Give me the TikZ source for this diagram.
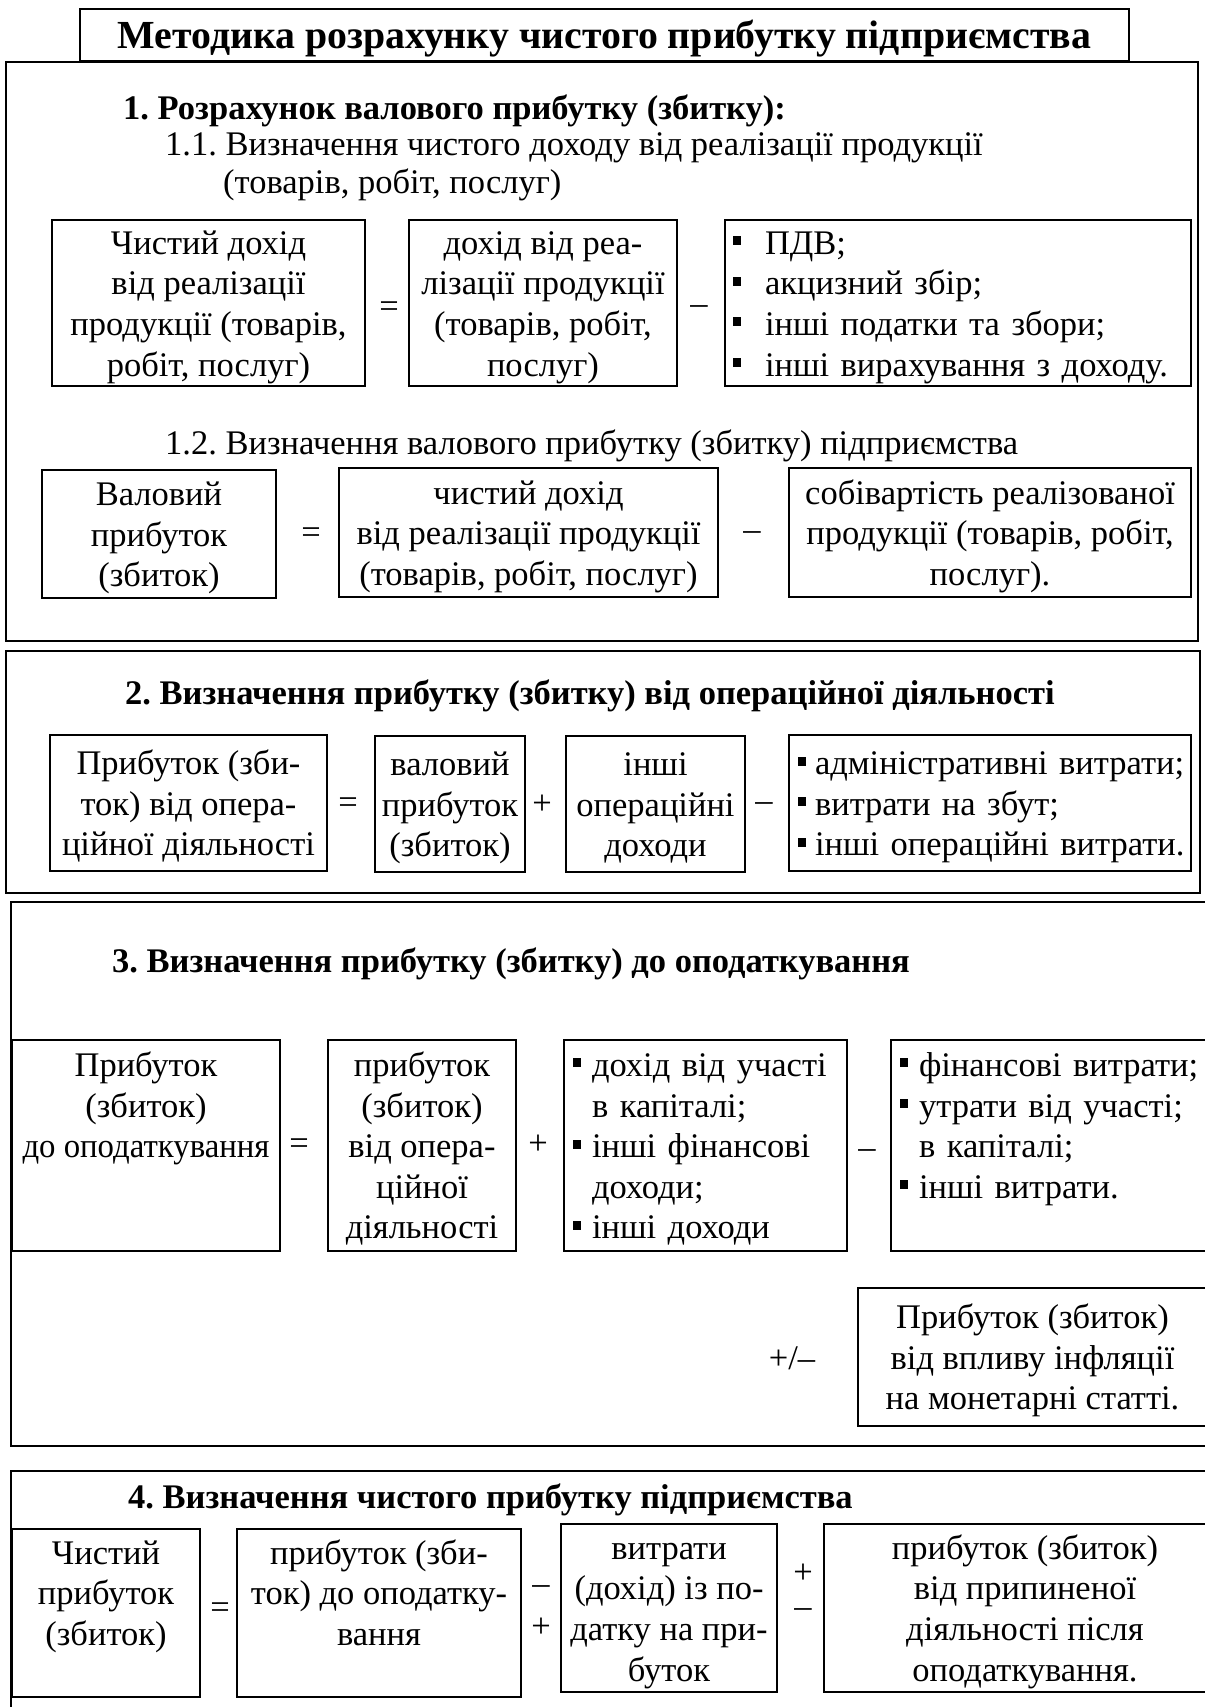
\documentclass[tikz,border=0pt]{standalone}
\usepackage{fontspec}
\setmainfont{Liberation Serif}
\frenchspacing
\newcommand\bodyfont{\fontsize{34.5}{40.6}\selectfont}
\newcommand\headfont{\fontsize{34.5}{40.6}\selectfont\bfseries}
\newcommand\titlefont{\fontsize{39.8}{44}\selectfont\bfseries}
\newcommand\Z{\rule[-8.2pt]{0pt}{40.6pt}}
\newcommand\bul{\rule[9pt]{8pt}{9pt}}
\newcommand\bitem[2]{\Z\makebox[#1][l]{\bul}\mbox{#2}}
\tikzset{
  x=1pt, y=-1pt,
  frame/.style={draw, line width=1.8pt},
  box/.style={draw, line width=1.5pt, inner sep=0pt, font=\bodyfont, align=center},
  lbox/.style={draw, line width=1.5pt, inner ysep=0pt, font=\bodyfont, align=left},
  op/.style={font=\bodyfont, inner sep=0pt},
  head/.style={font=\headfont, anchor=west, inner sep=0pt},
  subhead/.style={font=\bodyfont, anchor=west, inner sep=0pt},
}
\begin{document}
\begin{tikzpicture}
\useasboundingbox (0,0) rectangle (1204,1707);
% frames
\draw[frame] (6,62) rectangle (1198,641);
\draw[frame] (6,651) rectangle (1200,893);
\draw[frame] (11,902) rectangle (1210,1446);
\draw[frame] (1210,1471) -- (11,1471) -- (11,1712);
\node[draw, line width=1.8pt, minimum width=1049pt, minimum height=51pt, inner sep=0pt, font=\titlefont] (title) at (604.5,35) {\rule[-12pt]{0pt}{52pt}Методика розрахунку чистого прибутку підприємства};

% section 1
\node[head] (h1) at (123,107) {\Z 1. Розрахунок валового прибутку (збитку):};
\node[subhead] (h11) at (165,143) {\Z 1.1. Визначення чистого доходу від реалізації продукції};
\node[subhead] (h11b) at (223,181) {\Z (товарів, робіт, послуг)};

\node[box, minimum width=313pt, minimum height=166pt] (a) at (208.5,303)
  {\Z Чистий дохід\\ \Z від реалізації\\ \Z продукції (товарів,\\ \Z робіт, послуг)};
\node[op] (eqa) at (389,310) {=};
\node[box, minimum width=268pt, minimum height=166pt] (b) at (543,303)
  {\Z дохід від реа-\\ \Z лізації продукції\\ \Z (товарів, робіт,\\ \Z послуг)};
\node[op] (mia) at (699,310) {–};
\node[lbox, text width=450pt, inner xsep=8pt, minimum height=166pt] (c) at (958,303)
  {\bitem{32pt}{ПДВ;}\\ \bitem{32pt}{акцизний збір;}\\ \bitem{32pt}{інші податки та збори;}\\ \bitem{32pt}{інші вирахування з доходу.}};

\node[subhead] (h12) at (165,442) {\Z 1.2. Визначення валового прибутку (збитку) підприємства};
\node[box, minimum width=234pt, minimum height=128pt] (d) at (159,534)
  {\Z Валовий\\ \Z прибуток\\ \Z (збиток)};
\node[op] (eqd) at (311,536) {=};
\node[box, minimum width=379pt, minimum height=129pt] (e) at (528.5,532.5)
  {\Z чистий дохід\\ \Z від реалізації продукції\\ \Z (товарів, робіт, послуг)};
\node[op] (mid) at (752,536) {–};
\node[box, minimum width=402pt, minimum height=129pt] (f) at (990,532.5)
  {\Z собівартість реалізованої\\ \Z продукції (товарів, робіт,\\ \Z послуг).};

% section 2
\node[head] (h2) at (125,692) {\Z 2. Визначення прибутку (збитку) від операційної діяльності};
\node[box, minimum width=277pt, minimum height=136pt] (g) at (188.5,803)
  {\Z Прибуток (зби-\\ \Z ток) від опера-\\ \Z ційної діяльності};
\node[op] (eqg) at (348,806) {=};
\node[box, minimum width=150pt, minimum height=136pt] (h) at (450,804)
  {\Z валовий\\ \Z прибуток\\ \Z (збиток)};
\node[op] (plh) at (542,805) {+};
\node[box, minimum width=179pt, minimum height=136pt] (i) at (655.5,804)
  {\Z інші\\ \Z операційні\\ \Z доходи};
\node[op] (mii) at (764,807) {–};
\node[lbox, text width=384pt, inner xsep=9pt, minimum height=136pt] (j) at (990,803)
  {\bitem{17pt}{адміністративні витрати;}\\ \bitem{17pt}{витрати на збут;}\\ \bitem{17pt}{інші операційні витрати.}};

% section 3
\node[head] (h3) at (112,960) {\Z 3. Визначення прибутку (збитку) до оподаткування};
\node[box, minimum width=268pt, minimum height=211pt] (k) at (146,1145.5)
  {\Z Прибуток\\ \Z (збиток)\\ \Z\scalebox{0.95}[1]{до оподаткування}\\ \Z\\ \Z};
\node[op] (eqk) at (299,1147) {=};
\node[box, minimum width=188pt, minimum height=211pt] (l) at (422,1145.5)
  {\Z прибуток\\ \Z (збиток)\\ \Z від опера-\\ \Z ційної\\ \Z діяльності};
\node[op] (pll) at (538,1145) {+};
\node[lbox, text width=265pt, inner xsep=9pt, minimum height=211pt] (m) at (705.5,1145.5)
  {\bitem{19pt}{дохід від участі}\\ \Z\hspace*{19pt}в капіталі;\\ \bitem{19pt}{інші фінансові}\\ \Z\hspace*{19pt}доходи;\\ \bitem{19pt}{інші доходи}};
\node[op] (mim) at (867,1154) {–};
\node[lbox, text width=298pt, inner xsep=9pt, minimum height=211pt] (n) at (1049,1145.5)
  {\bitem{19pt}{фінансові витрати;}\\ \bitem{19pt}{утрати від участі;}\\ \Z\hspace*{19pt}в капіталі;\\ \bitem{19pt}{інші витрати.}\\ \Z};
\node[op] (pmo) at (792,1358) {+/–};
\node[box, minimum width=349pt, minimum height=138pt] (o) at (1032.5,1357)
  {\Z Прибуток (збиток)\\ \Z від впливу інфляції\\ \Z на монетарні статті.};

% section 4
\node[head] (h4) at (128,1496) {\Z 4. Визначення чистого прибутку підприємства};
\node[box, minimum width=188pt, minimum height=168pt] (p) at (106,1613)
  {\Z Чистий\\ \Z прибуток\\ \Z (збиток)\\ \Z};
\node[op] (eqp) at (220,1611) {=};
\node[box, minimum width=284pt, minimum height=168pt] (q) at (379,1613)
  {\Z прибуток (зби-\\ \Z ток) до оподатку-\\ \Z вання\\ \Z};
\node[op] (miq) at (541,1590) {–};
\node[op] (plq) at (541,1628) {+};
\node[box, minimum width=216pt, minimum height=168pt] (r) at (669,1608)
  {\Z витрати\\ \Z (дохід) із по-\\ \Z датку на при-\\ \Z буток};
\node[op] (plr) at (803,1574) {+};
\node[op] (mir) at (803,1613) {–};
\node[box, minimum width=402pt, minimum height=168pt] (s) at (1025,1608)
  {\Z прибуток (збиток)\\ \Z від припиненої\\ \Z діяльності після\\ \Z оподаткування.};
\end{tikzpicture}
\end{document}
